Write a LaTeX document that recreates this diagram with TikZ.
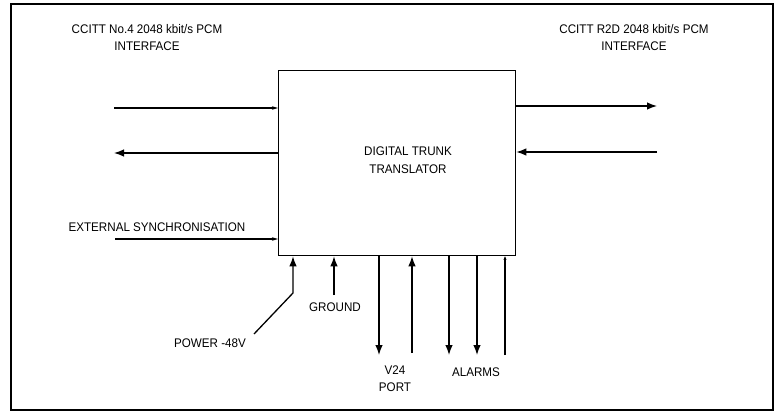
\documentclass[tikz,border=0pt]{standalone}
\usepackage{fontspec}
\setmainfont{Liberation Sans}[FakeStretch=0.93]
\usetikzlibrary{arrows.meta}
\begin{document}
\begin{tikzpicture}[x=1pt,y=-1pt,
  line width=1.3pt,
  lbl/.style={font=\fontsize{12.5}{17}\selectfont, inner sep=0pt, align=center},
  big/.style={-{Latex[length=10pt,width=7.5pt]}},
  small/.style={-{Stealth[length=6pt,width=3.5pt]}},
  tiny/.style={-{Stealth[length=3.5pt,width=3pt]}}]
\useasboundingbox (0,0) rectangle (777,412);
\draw[line width=1.4pt] (11,4) rectangle (773,410);
\node[draw, line width=1.3pt, minimum width=237pt, minimum height=185pt, anchor=north west, inner sep=0pt] (dtt) at (278,70) {};
\node[lbl, font=\fontsize{12.5}{18}\selectfont] (dttlbl) at (408,160) {DIGITAL TRUNK\\TRANSLATOR};
% titles
\node[lbl] (tl) at (147,37.5) {CCITT No.4 2048 kbit/s PCM\\INTERFACE};
\node[lbl] (tr) at (634,37.5) {CCITT R2D 2048 kbit/s PCM\\INTERFACE};
% left side
\coordinate (l1) at (114,108);
\coordinate (l2) at (114,153);
\coordinate (l3) at (115,239);
\draw[small] (l1) -- (l1 -| dtt.west);
\draw[big] (l2 -| dtt.west) -- (l2);
\draw[small] (l3) -- (l3 -| dtt.west);
\node[lbl] (sync) at (157,227) {EXTERNAL SYNCHRONISATION};
% right side
\coordinate (r1) at (657,106);
\coordinate (r2) at (657,152);
\draw[big] (r1 -| dtt.east) -- (r1);
\draw[big] (r2) -- (r2 -| dtt.east);
% bottom
\coordinate (p1) at (293,293);
\coordinate (p0) at (254,334);
\draw[big] (p0) -- (p1) -- (p1 |- dtt.south);
\node[lbl] (pow) at (210,343) {POWER -48V};
\coordinate (g0) at (334,295);
\draw[big] (g0) -- (g0 |- dtt.south);
\node[lbl] (gnd) at (335,307) {GROUND};
\coordinate (v1) at (379,355);
\coordinate (v2) at (412,353);
\draw[big] (v1 |- dtt.south) -- (v1);
\draw[big] (v2) -- (v2 |- dtt.south);
\node[lbl] (v24) at (395,378.5) {V24\\PORT};
\coordinate (a1) at (449,355);
\coordinate (a2) at (477,355);
\coordinate (a3) at (505,355);
\draw[big] (a1 |- dtt.south) -- (a1);
\draw[big] (a2 |- dtt.south) -- (a2);
\draw[tiny] (a3) -- (a3 |- dtt.south);
\node[lbl] (alarms) at (476,372) {ALARMS};
\end{tikzpicture}
\end{document}
